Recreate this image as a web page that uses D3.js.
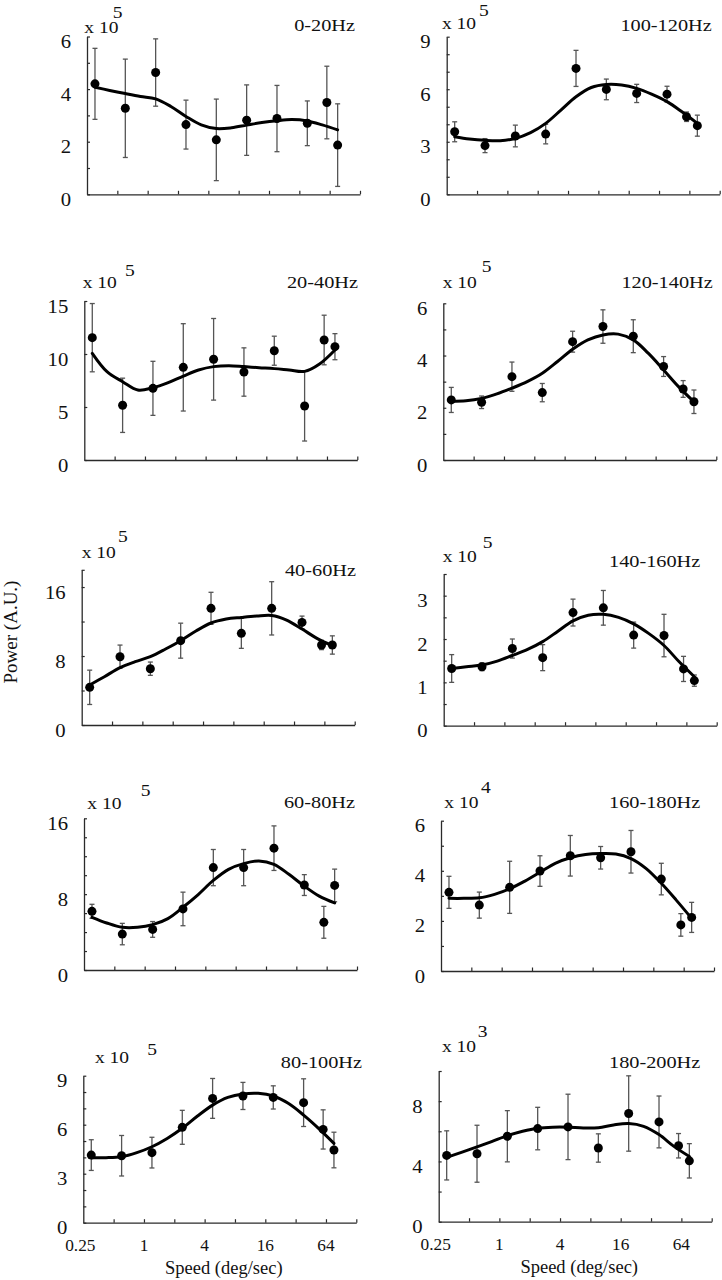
<!DOCTYPE html>
<html><head><meta charset="utf-8">
<script src="https://cdn.jsdelivr.net/npm/d3@7"></script>
<style>body{margin:0;background:#fff} svg{display:block}</style>
</head><body>
<svg id="chart" width="722" height="1280"></svg>
<script>
// ---------------- data ----------------
const bands = ["0-20Hz","20-40Hz","40-60Hz","60-80Hz","80-100Hz","100-120Hz","120-140Hz","140-160Hz","160-180Hz","180-200Hz"];
const exponents = [5,5,5,5,5,5,5,5,4,3];
const speeds = [0.3, 0.6, 1.2, 2.4, 4.8, 9.6, 19.2, 38.4, 60, 76.8];
const fitSpeeds = [0.3, 0.42, 0.6, 0.85, 1.2, 1.7, 2.4, 3.4, 4.8, 6.8, 9.6, 13.6, 19.2, 27, 38.4, 54, 76.8];
const xTickValues = [0.5, 1, 2, 4, 8, 16, 32, 64, 128];
const xLabelValues = [0.25, 1, 4, 16, 64];
const xLabelTexts = ["0.25", "1", "4", "16", "64"];
const yMax = [6, 15, 18, 16, 9, 9, 6, 3.5, 6, 10];
const yTickStep = [1, 5, 4, 2, 1, 1, 1, 0.5, 1, 2];
const yLabelStep = [2, 5, 8, 8, 3, 3, 2, 1, 2, 4];

const meanPower = [
  [4.20, 3.27, 4.63, 2.65, 2.07, 2.82, 2.88, 2.70, 3.49, 1.87],
  [11.54, 5.16, 6.76, 8.74, 9.50, 8.30, 10.31, 5.09, 11.32, 10.69],
  [4.37, 7.92, 6.53, 9.78, 13.53, 10.63, 13.53, 11.90, 9.28, 9.28],
  [6.19, 3.79, 4.28, 6.44, 10.80, 10.80, 12.85, 8.96, 5.03, 8.92],
  [4.14, 4.10, 4.29, 5.84, 7.61, 7.76, 7.67, 7.35, 5.71, 4.45],
  [3.57, 2.78, 3.33, 3.44, 7.19, 5.99, 5.76, 5.72, 4.43, 3.92],
  [2.30, 2.21, 3.19, 2.58, 4.53, 5.11, 4.74, 3.58, 2.72, 2.23],
  [1.32, 1.36, 1.78, 1.57, 2.61, 2.72, 2.09, 2.08, 1.31, 1.04],
  [3.14, 2.63, 3.34, 3.99, 4.60, 4.52, 4.76, 3.67, 1.84, 2.14],
  [4.40, 4.51, 5.67, 6.18, 6.29, 4.89, 7.18, 6.62, 5.04, 4.04]
];
const errPower = [
  [1.35, 1.87, 1.28, 0.93, 1.55, 1.34, 1.26, 0.85, 1.38, 1.57],
  [3.22, 2.56, 2.55, 4.12, 3.85, 2.28, 1.37, 3.30, 2.34, 1.23],
  [1.99, 1.35, 0.77, 2.03, 1.86, 1.74, 3.09, 0.73, 0.54, 1.06],
  [0.74, 1.13, 0.83, 1.77, 1.91, 1.91, 2.35, 1.10, 1.68, 1.72],
  [0.94, 1.24, 0.94, 1.04, 1.22, 0.83, 0.71, 1.46, 1.20, 1.09],
  [0.57, 0.40, 0.62, 0.56, 1.03, 0.59, 0.52, 0.45, 0.27, 0.60],
  [0.48, 0.24, 0.56, 0.35, 0.40, 0.64, 0.63, 0.38, 0.32, 0.45],
  [0.32, 0.09, 0.22, 0.30, 0.31, 0.40, 0.30, 0.49, 0.29, 0.13],
  [0.64, 0.52, 1.04, 0.61, 0.81, 0.45, 0.85, 0.63, 0.45, 0.60],
  [1.63, 1.89, 1.70, 1.41, 2.17, 0.94, 2.50, 1.72, 0.81, 1.14]
];
const fitPower = [
  [4.07, 3.95, 3.83, 3.72, 3.63, 3.34, 2.96, 2.64, 2.50, 2.53, 2.63, 2.73, 2.80, 2.84, 2.79, 2.64, 2.45],
  [10.06, 8.33, 7.39, 6.60, 6.82, 7.30, 7.92, 8.49, 8.81, 8.90, 8.81, 8.71, 8.62, 8.49, 8.36, 9.06, 10.38],
  [4.64, 5.60, 6.65, 7.34, 7.92, 8.81, 9.78, 10.90, 11.83, 12.29, 12.48, 12.64, 12.71, 12.17, 11.13, 10.05, 9.20],
  [5.56, 4.96, 4.50, 4.50, 4.78, 5.42, 6.62, 7.96, 9.45, 10.62, 11.22, 11.50, 11.15, 10.09, 8.85, 7.79, 7.08],
  [3.98, 3.98, 4.04, 4.29, 4.65, 5.16, 5.78, 6.53, 7.20, 7.67, 7.88, 7.92, 7.76, 7.31, 6.59, 5.78, 4.86],
  [3.29, 3.16, 3.08, 3.06, 3.19, 3.52, 4.05, 4.81, 5.57, 6.10, 6.27, 6.24, 6.05, 5.72, 5.29, 4.71, 4.05],
  [2.25, 2.27, 2.36, 2.53, 2.75, 3.00, 3.32, 3.77, 4.24, 4.60, 4.79, 4.82, 4.60, 4.09, 3.45, 2.81, 2.23],
  [1.32, 1.36, 1.40, 1.49, 1.62, 1.76, 1.94, 2.18, 2.42, 2.55, 2.57, 2.50, 2.35, 2.13, 1.85, 1.48, 1.13],
  [2.90, 2.90, 2.92, 3.06, 3.28, 3.59, 3.94, 4.30, 4.52, 4.65, 4.69, 4.67, 4.49, 4.10, 3.50, 2.83, 2.10],
  [4.27, 4.60, 4.96, 5.33, 5.71, 6.00, 6.20, 6.27, 6.27, 6.22, 6.24, 6.42, 6.51, 6.33, 5.78, 5.00, 4.33]
];

// ---------------- layout (pixels) ----------------
const AXIS_W = 273;
const layout = [
  {x0: 87,    top: 36.5,  zero: 194.3,  mult: [84.3, 33.3],   sup: [112.7, 18.3],  title: [355, 31]},
  {x0: 84.3,  top: 301,   zero: 460,    mult: [82.7, 288.3],  sup: [125, 276],     title: [358, 287.7]},
  {x0: 81.7,  top: 569.8, zero: 725,    mult: [81.7, 558.3],  sup: [118, 541.7],   title: [356, 576]},
  {x0: 84,    top: 818.3, zero: 970,    mult: [87.3, 809],    sup: [140.7, 795.7], title: [355, 808.3]},
  {x0: 83.3,  top: 1075.7,zero: 1222.7, mult: [95, 1063.3],   sup: [147.3, 1055],  title: [362, 1067.7]},
  {x0: 446.7, top: 36.7,  zero: 194.3,  mult: [442, 29.3],    sup: [479, 15.5],    title: [711.7, 31]},
  {x0: 443.3, top: 303.3, zero: 460,    mult: [442.7, 287.7], sup: [481.7, 271.7], title: [712.7, 288.3]},
  {x0: 443.7, top: 574,   zero: 725.7,  mult: [442.7, 561.7], sup: [482.7, 548.3], title: [700.3, 567.3]},
  {x0: 441,   top: 820.7, zero: 971,    mult: [444.3, 808.3], sup: [481, 793.3],   title: [700.3, 808.3]},
  {x0: 438.7, top: 1071,  zero: 1221.7, mult: [442, 1051.7],  sup: [477.7, 1037.3],title: [700.3, 1067.7]}
];

const FONT = "'Liberation Serif','Times New Roman',Times,serif";
const AXIS_COLOR = "#2a2a2a";
const ERR_COLOR = "#555";

const svg = d3.select("#chart");
svg.append("rect").attr("width", 722).attr("height", 1280).attr("fill", "#fff");

function txt(g, str, x, y, size, sx, anchor) {
  return g.append("text")
    .attr("transform", `translate(${x},${y}) scale(${sx},1)`)
    .attr("font-family", FONT).attr("font-size", size)
    .attr("text-anchor", anchor || "start").attr("fill", "#111")
    .text(str);
}

bands.forEach((band, i) => {
  const L = layout[i];
  const g = svg.append("g");
  const x = d3.scaleLog().base(2).domain([0.25, 128]).range([L.x0, L.x0 + AXIS_W]);
  const y = d3.scaleLinear().domain([0, yMax[i]]).range([L.zero, L.top]);

  // x axis
  const gx = g.append("g").attr("transform", `translate(0,${L.zero})`)
    .call(d3.axisBottom(x).tickValues(xTickValues).tickSize(-3.5).tickSizeOuter(0).tickFormat(""));
  gx.select(".domain").attr("stroke", AXIS_COLOR).attr("stroke-width", 1.3);
  gx.selectAll(".tick line").attr("stroke", AXIS_COLOR).attr("stroke-width", 1.2);

  // y axis
  const yt = d3.range(0, yMax[i] + 1e-9, yTickStep[i]);
  if (Math.abs(yt[yt.length - 1] - yMax[i]) > 1e-9) yt.push(yMax[i]);
  const gy = g.append("g").attr("transform", `translate(${L.x0},0)`)
    .call(d3.axisLeft(y).tickValues(yt).tickSize(-3).tickSizeOuter(0).tickFormat(""));
  gy.select(".domain").attr("stroke", AXIS_COLOR).attr("stroke-width", 1.3);
  gy.selectAll(".tick line").attr("stroke", AXIS_COLOR).attr("stroke-width", 1.2);

  // y tick labels
  d3.range(0, yMax[i] + 1e-9, yLabelStep[i]).forEach(v => {
    txt(g, d3.format("~g")(v), L.x0 - 16, y(v) + 11.5, 18, 1.15, "end");
  });

  // x tick labels on the bottom row
  if (i % 5 === 4) {
    xLabelValues.forEach((v, k) => {
      txt(g, xLabelTexts[k], x(v) - (k === 0 ? 3 : 0), L.zero + 28.5, 16.5, 1.05, "middle");
    });
    txt(g, "Speed (deg/sec)", L.x0 + AXIS_W / 2 + 4, L.zero + 51, 18.5, 1.0, "middle");
  }

  // multiplier and title
  txt(g, "x 10", L.mult[0], L.mult[1], 16, 1.22, "start");
  txt(g, String(exponents[i]), L.sup[0], L.sup[1], 17, 1.15, "start");
  txt(g, band, L.title[0], L.title[1], 16, 1.27, "end");

  // error bars
  const eb = g.append("g").attr("stroke", ERR_COLOR).attr("stroke-width", 1.3);
  speeds.forEach((s, k) => {
    const m = meanPower[i][k], e = errPower[i][k];
    const cx = x(s);
    eb.append("line").attr("x1", cx).attr("x2", cx).attr("y1", y(m - e)).attr("y2", y(m + e));
    eb.append("line").attr("x1", cx - 2.5).attr("x2", cx + 2.5).attr("y1", y(m - e)).attr("y2", y(m - e));
    eb.append("line").attr("x1", cx - 2.5).attr("x2", cx + 2.5).attr("y1", y(m + e)).attr("y2", y(m + e));
  });

  // fitted curve
  const line = d3.line().x(d => x(d[0])).y(d => y(d[1])).curve(d3.curveCatmullRom.alpha(0.5));
  g.append("path").datum(fitSpeeds.map((s, k) => [s, fitPower[i][k]]))
    .attr("d", line).attr("fill", "none").attr("stroke", "#000").attr("stroke-width", 3)
    .attr("stroke-linecap", "round");

  // dots
  g.append("g").selectAll("circle").data(speeds).join("circle")
    .attr("cx", d => x(d)).attr("cy", (d, k) => y(meanPower[i][k])).attr("r", 4.5).attr("fill", "#000");
});

// shared y label
svg.append("text")
  .attr("transform", "translate(17,632) rotate(-90)")
  .attr("font-family", FONT).attr("font-size", 19).attr("text-anchor", "middle").attr("fill", "#111")
  .text("Power (A.U.)");
</script>
</body></html>
